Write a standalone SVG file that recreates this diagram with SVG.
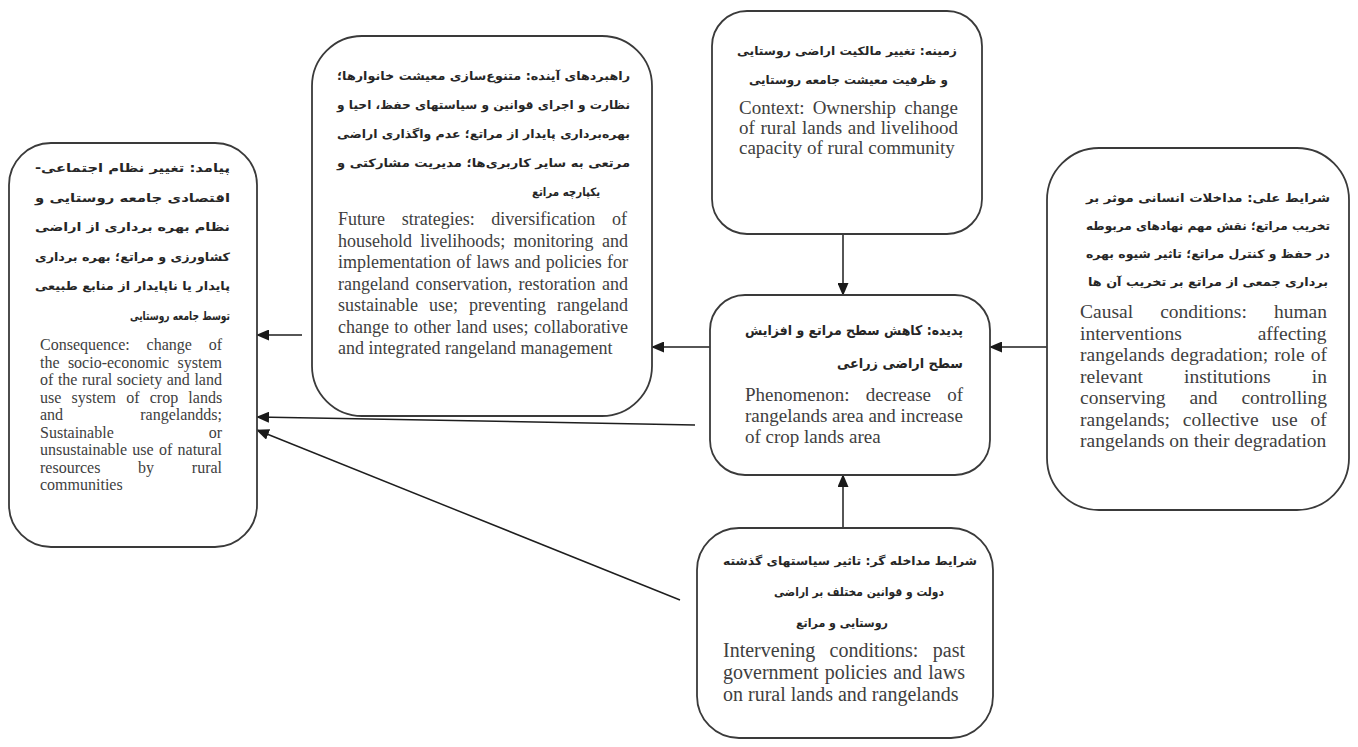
<svg xmlns="http://www.w3.org/2000/svg" width="1358" height="747" viewBox="0 0 1358 747">
<defs>
<marker id="ah" markerWidth="13" markerHeight="11" refX="12" refY="5.5" orient="auto" markerUnits="userSpaceOnUse">
<path d="M0,0 L13,5.5 L0,11 z" fill="#1a1a1a"/>
</marker>
<style>
.box{fill:#fff;stroke:#3a3a3a;stroke-width:1.8}
.fa{font-family:"DejaVu Sans",sans-serif;font-size:11.5px;font-weight:bold;fill:#262626;direction:rtl;text-anchor:middle}
.fb{font-size:13.5px}
.en{font-family:"Liberation Serif",serif;fill:#404040}
.e16{font-size:16px}.e18{font-size:18px}.e19{font-size:19px}.e195{font-size:19.5px}.e20{font-size:20px}
.conn{stroke:#1e1e1e;stroke-width:1.5;fill:none;marker-end:url(#ah)}
</style>
</defs>
<rect width="1358" height="747" fill="#fff"/>

<g id="connectors">
<line class="conn" x1="843" y1="234" x2="843" y2="295"/>
<line class="conn" x1="843" y1="528" x2="843" y2="475"/>
<line class="conn" x1="1047" y1="347" x2="990" y2="347"/>
<line class="conn" x1="710" y1="347" x2="652" y2="347"/>
<line class="conn" x1="302" y1="335" x2="257" y2="335"/>
<line class="conn" x1="695" y1="425" x2="257" y2="417"/>
<line class="conn" x1="680" y1="600" x2="257" y2="430"/>
</g>

<g id="node-consequence">
<rect class="box" x="9" y="143" width="248" height="404" rx="42"/>
<text class="fa" x="132.5" y="172" textLength="195" lengthAdjust="spacingAndGlyphs">پیامد: تغییر نظام اجتماعی-</text>
<text class="fa" x="132.5" y="202" textLength="195" lengthAdjust="spacingAndGlyphs">اقتصادی جامعه روستایی   و</text>
<text class="fa" x="132.5" y="231" textLength="195" lengthAdjust="spacingAndGlyphs">نظام بهره برداری   از اراضی</text>
<text class="fa" x="132.5" y="261" textLength="195" lengthAdjust="spacingAndGlyphs">کشاورزی و مراتع؛ بهره برداری</text>
<text class="fa" x="132.5" y="290" textLength="195" lengthAdjust="spacingAndGlyphs">پایدار یا ناپایدار از منابع طبیعی</text>
<text class="fa" x="180" y="320" textLength="100" lengthAdjust="spacingAndGlyphs">توسط جامعه روستایی</text>
<text class="en e16" x="40" y="350" word-spacing="12.8">Consequence: change of</text>
<text class="en e16" x="40" y="367.5" word-spacing="4.35">the socio-economic system</text>
<text class="en e16" x="40" y="385" word-spacing="0.58">of the rural society and land</text>
<text class="en e16" x="40" y="402.5" word-spacing="6.2">use system of crop lands</text>
<text class="en e16" x="40" y="420" word-spacing="73.1">and rangelandds;</text>
<text class="en e16" x="40" y="437.5" word-spacing="90.9">Sustainable or</text>
<text class="en e16" x="40" y="455" word-spacing="1.27">unsustainable use of natural</text>
<text class="en e16" x="40" y="472.5" word-spacing="33.7">resources by rural</text>
<text class="en e16" x="40" y="490">communities</text>
</g>

<g id="node-strategies">
<rect class="box" x="312" y="36" width="340" height="380" rx="50"/>
<text class="fa" x="483.5" y="80" textLength="293" lengthAdjust="spacingAndGlyphs">راهبردهای آینده: متنوع‌سازی معیشت خانوارها؛</text>
<text class="fa" x="483.5" y="109" textLength="293" lengthAdjust="spacingAndGlyphs">نظارت و اجرای قوانین و سیاستهای حفظ، احیا و</text>
<text class="fa" x="483.5" y="138" textLength="293" lengthAdjust="spacingAndGlyphs">بهره‌برداری پایدار از مراتع؛ عدم واگذاری اراضی</text>
<text class="fa" x="483.5" y="167" textLength="293" lengthAdjust="spacingAndGlyphs">مرتعی به سایر کاربری‌ها؛ مدیریت مشارکتی و</text>
<text class="fa" x="566" y="196" textLength="68" lengthAdjust="spacingAndGlyphs">یکپارچه مراتع</text>
<text class="en e18" x="338" y="225" word-spacing="12.2">Future strategies: diversification of</text>
<text class="en e18" x="338" y="246.5" word-spacing="3.8">household livelihoods; monitoring and</text>
<text class="en e18" x="338" y="268" word-spacing="0.72">implementation of laws and policies for</text>
<text class="en e18" x="338" y="289.5" word-spacing="2">rangeland conservation, restoration and</text>
<text class="en e18" x="338" y="311" word-spacing="6.5">sustainable use; preventing rangeland</text>
<text class="en e18" x="338" y="332.5" word-spacing="0.9">change to other land uses; collaborative</text>
<text class="en e18" x="338" y="354">and integrated rangeland management</text>
</g>

<g id="node-context">
<rect class="box" x="712" y="11" width="270" height="223" rx="35"/>
<text class="fa" x="847" y="55" textLength="220" lengthAdjust="spacingAndGlyphs">زمینه: تغییر مالکیت اراضی روستایی</text>
<text class="fa" x="848.5" y="84" textLength="199" lengthAdjust="spacingAndGlyphs">و ظرفیت معیشت جامعه روستایی</text>
<text class="en e19" x="739" y="114" word-spacing="3.45">Context: Ownership change</text>
<text class="en e19" x="739" y="134" word-spacing="0.9">of rural lands and livelihood</text>
<text class="en e19" x="739" y="154">capacity of rural community</text>
</g>

<g id="node-phenomenon">
<rect class="box" x="710" y="295" width="280" height="180" rx="35"/>
<text class="fa fb" x="854" y="335" textLength="218" lengthAdjust="spacingAndGlyphs">پدیده: کاهش سطح مراتع و افزایش</text>
<text class="fa fb" x="900" y="368" textLength="126" lengthAdjust="spacingAndGlyphs">سطح اراضی زراعی</text>
<text class="en e19" x="745" y="401" word-spacing="11.4">Phenomenon: decrease of</text>
<text class="en e19" x="745" y="422">rangelands area and increase</text>
<text class="en e19" x="745" y="443">of crop lands area</text>
</g>

<g id="node-causal">
<rect class="box" x="1047" y="148" width="302" height="362" rx="52"/>
<text class="fa" x="1208" y="202" textLength="244" lengthAdjust="spacingAndGlyphs">شرایط علی: مداخلات انسانی موثر بر</text>
<text class="fa" x="1208" y="230" textLength="244" lengthAdjust="spacingAndGlyphs">تخریب مراتع؛ نقش مهم نهادهای مربوطه</text>
<text class="fa" x="1208" y="258" textLength="244" lengthAdjust="spacingAndGlyphs">در حفظ و کنترل مراتع؛ تاثیر شیوه بهره</text>
<text class="fa" x="1208" y="286" textLength="240" lengthAdjust="spacingAndGlyphs">برداری جمعی از مراتع بر تخریب آن ها</text>
<text class="en e195" x="1080" y="318" word-spacing="22.2">Causal conditions: human</text>
<text class="en e195" x="1080" y="339.5" word-spacing="71">interventions affecting</text>
<text class="en e195" x="1080" y="361" word-spacing="1.27">rangelands degradation; role of</text>
<text class="en e195" x="1080" y="382.5" word-spacing="36.3">relevant institutions in</text>
<text class="en e195" x="1080" y="404" word-spacing="19">conserving and controlling</text>
<text class="en e195" x="1080" y="425.5" word-spacing="8.1">rangelands; collective use of</text>
<text class="en e195" x="1080" y="447">rangelands on their degradation</text>
</g>

<g id="node-intervening">
<rect class="box" x="697" y="528" width="296" height="210" rx="42"/>
<text class="fa" x="850" y="565" textLength="254" lengthAdjust="spacingAndGlyphs">شرایط مداخله گر: تاثیر سیاستهای گذشته</text>
<text class="fa" x="859" y="596" textLength="170" lengthAdjust="spacingAndGlyphs">دولت و قوانین مختلف بر اراضی</text>
<text class="fa" x="842" y="627" textLength="92" lengthAdjust="spacingAndGlyphs">روستایی و مراتع</text>
<text class="en e20" x="723" y="657" word-spacing="9.35">Intervening conditions: past</text>
<text class="en e20" x="723" y="679" word-spacing="1.23">government policies and laws</text>
<text class="en e20" x="723" y="701">on rural lands and rangelands</text>
</g>
</svg>
